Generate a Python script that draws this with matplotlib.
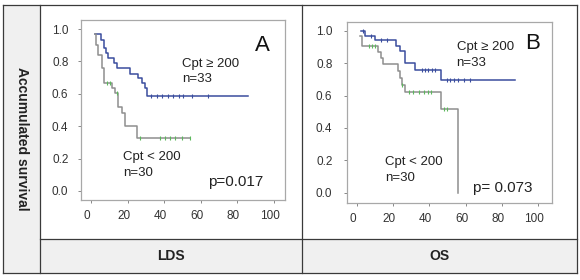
import numpy as np
import matplotlib
matplotlib.use("Agg")
import matplotlib.pyplot as plt
import matplotlib.transforms as mtransforms
from matplotlib.patches import Rectangle
from matplotlib.lines import Line2D

plt.rcParams['font.family'] = ['Liberation Sans', 'DejaVu Sans']

# ---------------- data ----------------
# Panel A (LDS)
a_hi_t = [2.2, 5.5, 7.1, 8.2, 9.5, 12.8, 14.4, 21.3, 25.9, 27.7, 29.5, 30.6]
a_hi_s = [0.97, 0.93, 0.88, 0.85, 0.82, 0.79, 0.76, 0.72, 0.695, 0.665, 0.635, 0.588]
a_hi_end = 86
a_hi_cens = [33, 36, 39, 42, 45, 48, 50, 55, 64]

a_lo_t = [2.2, 2.5, 3.6, 6.2, 7.3, 11.3, 13.1, 14.6, 16.8, 18.6, 25.3]
a_lo_s = [0.97, 0.90, 0.84, 0.757, 0.669, 0.636, 0.603, 0.52, 0.48, 0.40, 0.325]
a_lo_end = 54
a_lo_cens = [8.6, 10.4, 14.0, 26.8, 37.7, 40.4, 43.2, 46.0, 49.6, 54]

# Panel B (OS)
b_hi_t = [2.0, 4.4, 9.9, 21.5, 23.6, 26.5, 32.3, 46.5]
b_hi_s = [1.0, 0.97, 0.94, 0.905, 0.872, 0.80, 0.757, 0.698]
b_hi_end = 87
b_hi_cens = [3.5, 7.5, 13.5, 16.5, 35.7, 37.6, 39.4, 41.3, 43.1, 49.5, 51.5, 53.5, 56, 59, 62.5]

b_lo_t = [1.7, 2.8, 11.8, 13.1, 14.5, 22.8, 23.8, 24.7, 26.5, 46.2, 56.0]
b_lo_s = [0.967, 0.905, 0.868, 0.83, 0.792, 0.75, 0.708, 0.667, 0.62, 0.516, 0.0]
b_lo_end = 56
b_lo_cens = [6.5, 8.5, 10.0, 25.0, 28.5, 31, 34, 37, 39.5, 41, 47.8, 49.6]

x_ticks = [0, 20, 40, 60, 80, 100]
y_ticks = [0.0, 0.2, 0.4, 0.6, 0.8, 1.0]
y_tick_labels = ["0.0", "0.2", "0.4", "0.6", "0.8", "1.0"]

panel_letters = ["A", "B"]
hi_label = "Cpt \u2265 200\nn=33"
lo_label = "Cpt < 200\nn=30"
p_values = ["p=0.017", "p= 0.073"]
bottom_labels = ["LDS", "OS"]
y_title = "Accumulated survival"

BLUE = "#3a4d9e"
GRAY = "#8e8e8e"
GREEN = "#5cb85c"

W, H = 580, 280
fig = plt.figure(figsize=(W / 100, H / 100), dpi=100)


def fx(px):
    return px / W


def fy(py):
    return 1 - py / H


# ---------------- table frame ----------------
fig.patches.append(Rectangle((fx(3), fy(273)), fx(40) - fx(3), fy(5) - fy(273),
                             transform=fig.transFigure, facecolor="#f0f0f0",
                             edgecolor="none", zorder=0))
fig.patches.append(Rectangle((fx(40), fy(273)), fx(577) - fx(40), fy(239) - fy(273),
                             transform=fig.transFigure, facecolor="#f0f0f0",
                             edgecolor="none", zorder=0))
lc = "#3a3a3a"
for (x0, y0, x1, y1) in [(3, 5, 577, 5), (3, 273, 577, 273), (3, 5, 3, 273), (577, 5, 577, 273),
                         (40, 5, 40, 273), (302, 5, 302, 273), (40, 239, 577, 239)]:
    fig.lines.append(Line2D([fx(x0), fx(x1)], [fy(y0), fy(y1)], transform=fig.transFigure,
                            color=lc, lw=0.9, zorder=1))

fig.text(fx(21.5), fy(139), y_title, rotation=270, ha="center", va="center",
         fontsize=10, fontweight="bold", color="#222222")
fig.text(fx(171), fy(256), bottom_labels[0], ha="center", va="center",
         fontsize=10, fontweight="bold", color="#222222")
fig.text(fx(439.5), fy(256), bottom_labels[1], ha="center", va="center",
         fontsize=10, fontweight="bold", color="#222222")

# ---------------- axes ----------------
boxes = [(81, 20, 285, 200), (347, 22, 552, 203)]
xlims = [(-5.46, 106.0), (-5.5, 107.7)]
ylims = [(-0.056, 1.056), (-0.064, 1.054)]
ypads = [6.5, 8.0]

curves = [
    [(a_hi_t, a_hi_s, a_hi_end, a_hi_cens, BLUE, BLUE),
     (a_lo_t, a_lo_s, a_lo_end, a_lo_cens, GRAY, GREEN)],
    [(b_hi_t, b_hi_s, b_hi_end, b_hi_cens, BLUE, BLUE),
     (b_lo_t, b_lo_s, b_lo_end, b_lo_cens, GRAY, GREEN)],
]

text_pos = [
    dict(letter=(93.4, 0.90), hi=(49.6, 0.738), lo=(17.5, 0.16), p=(64, 0.055)),
    dict(letter=(97.0, 0.92), hi=(55.0, 0.85), lo=(15.5, 0.14), p=(64, 0.03)),
]


def s_at(times, surv, t):
    idx = np.searchsorted(np.asarray(times), np.asarray(t), side="right") - 1
    return np.asarray(surv)[np.clip(idx, 0, len(surv) - 1)]


for i in range(2):
    l, t, r, b = boxes[i]
    ax = fig.add_axes([fx(l), fy(b), fx(r) - fx(l), fy(t) - fy(b)])
    ax.set_xlim(*xlims[i])
    ax.set_ylim(*ylims[i])
    for sp in ax.spines.values():
        sp.set_color("#a8a8a8")
        sp.set_linewidth(0.9)
    ax.set_xticks(x_ticks)
    ax.set_xticklabels([str(v) for v in x_ticks])
    ax.set_yticks(y_ticks)
    ax.set_yticklabels(y_tick_labels)
    ax.tick_params(axis="both", direction="out", length=2.5, width=0.7, color="#888888",
                   labelsize=8.5, labelcolor="#333333")
    ax.tick_params(axis="y", pad=ypads[i])
    ax.tick_params(axis="x", pad=5)
    off = mtransforms.ScaledTranslation(-4 / 100, 0, fig.dpi_scale_trans)
    for lab in ax.get_xticklabels():
        lab.set_transform(lab.get_transform() + off)

    for (tt, ss, end, cens, col, ccol) in curves[i]:
        x = list(tt) + [end]
        y = list(ss) + [ss[-1]]
        ax.step(x, y, where="post", color=col, lw=1.1, zorder=3)
        ax.plot(cens, s_at(tt, ss, cens), ls="none", marker="|", markersize=3,
                mew=0.8, color=ccol, zorder=4)

    tp = text_pos[i]
    ax.text(*tp["letter"], panel_letters[i], ha="center", va="center", fontsize=16, color="#111111")
    ax.text(*tp["hi"], hi_label, ha="left", va="center", fontsize=9.5, color="#222222",
            linespacing=1.35)
    ax.text(*tp["lo"], lo_label, ha="left", va="center", fontsize=9.5, color="#222222",
            linespacing=1.35)
    ax.text(*tp["p"], p_values[i], ha="left", va="center", fontsize=11, color="#222222")

fig.savefig("out.png", dpi=100)
